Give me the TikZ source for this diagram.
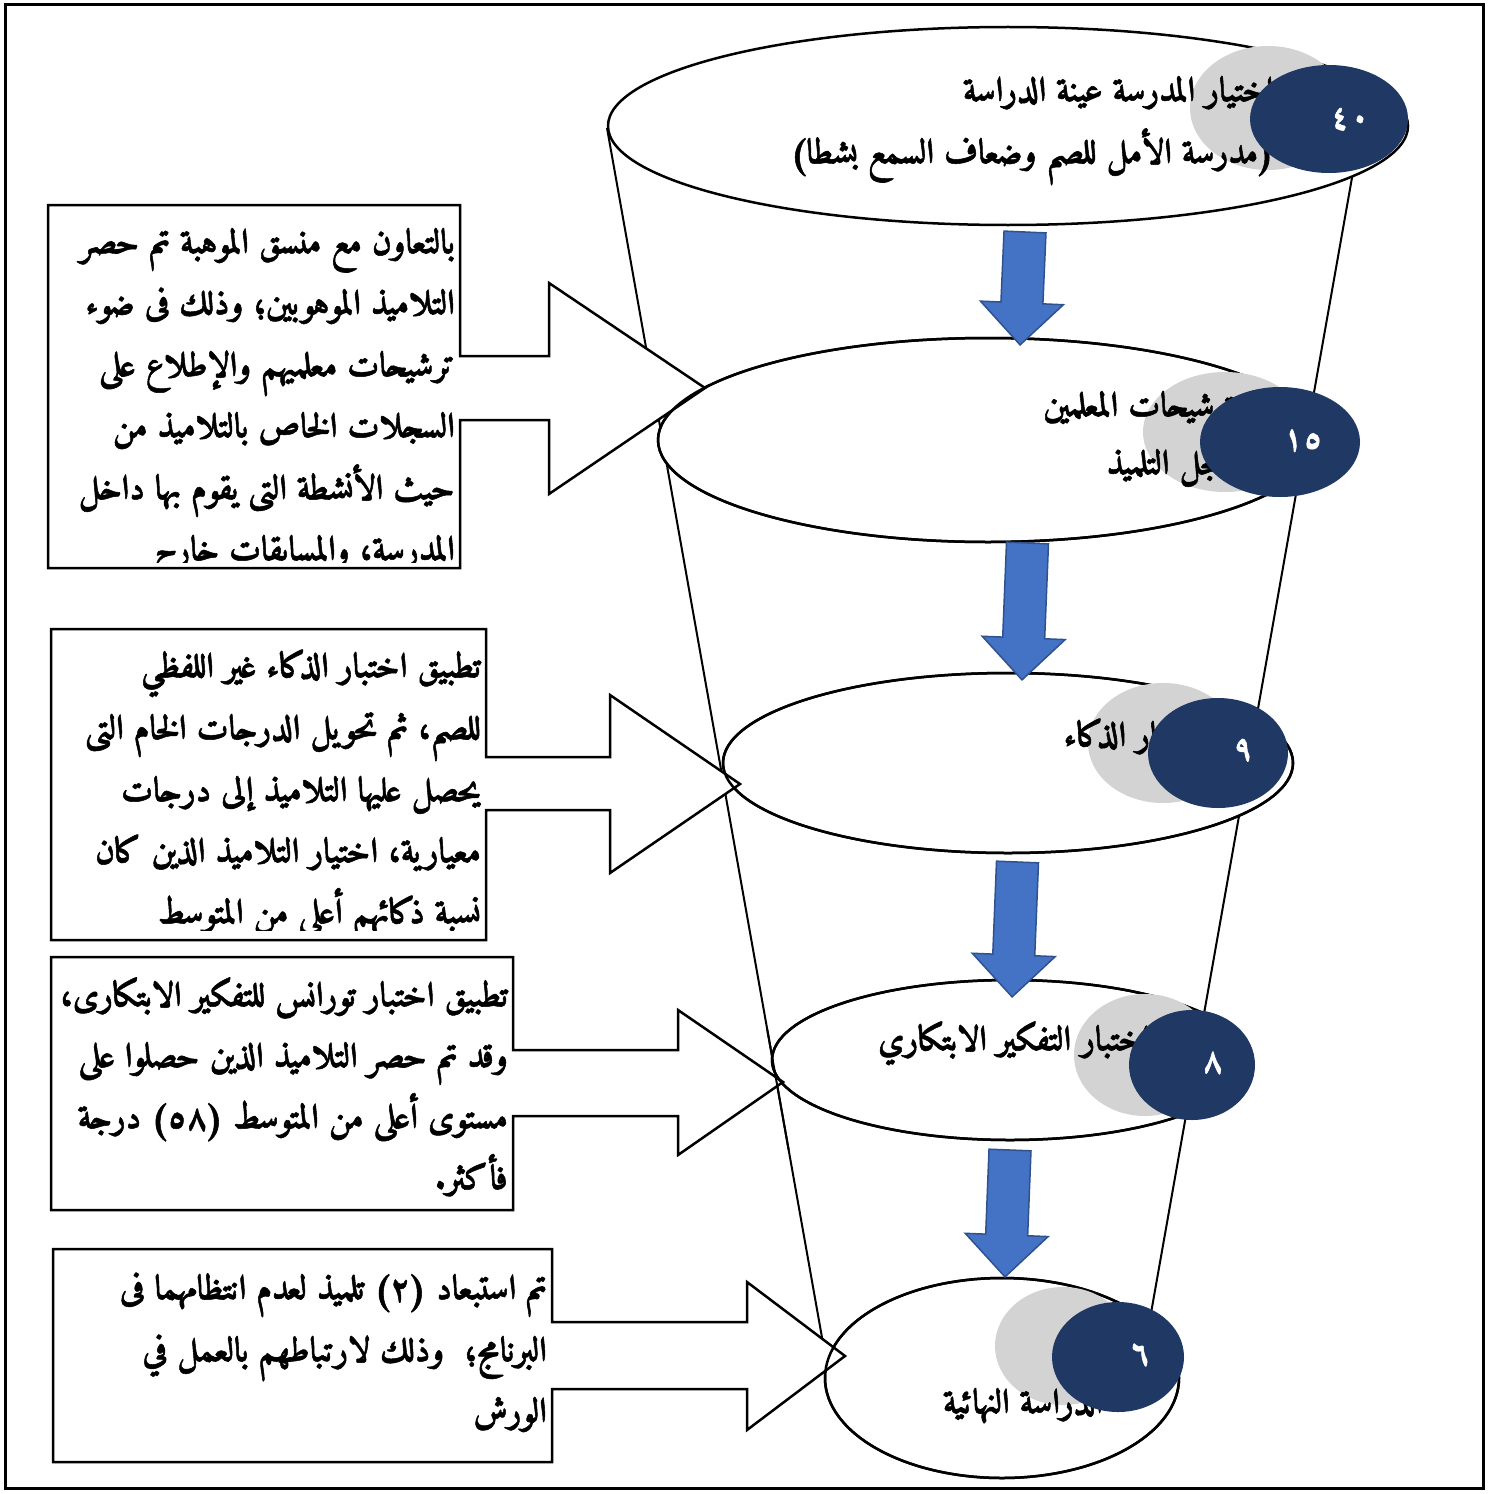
\documentclass[tikz,border=0pt]{standalone}
\usepackage{fontspec}
\usetikzlibrary{shapes.geometric,calc}
\TeXXeTstate=1
\IfFontExistsTF{Amiri-Bold.ttf}{%
  \newfontfamily\arfont[Script=Arabic,FakeBold=1.5]{Amiri-Bold.ttf}}{%
  \newfontfamily\arfont[Script=Arabic,FakeBold=2]{DejaVu Sans}}
\newcommand\ar[1]{{\arfont\beginR #1\endR}}
\newcommand\pc[1]{\hbox{\arfont #1}}
\definecolor{navy}{HTML}{203864}
\definecolor{lgray}{HTML}{D3D3D3}
\definecolor{barrow}{HTML}{4472C4}
\definecolor{barrowd}{HTML}{2F528F}
\tikzset{
  frame/.style={line width=3},
  cone/.style={line width=2},
  ellnode/.style={ellipse, draw, fill=white, line width=2.5, inner sep=0pt},
  ellline/.style={ellipse, draw, line width=2.5, inner sep=0pt},
  graydisc/.style={ellipse, fill=lgray, inner sep=0pt},
  navydisc/.style={ellipse, fill=navy, inner sep=0pt},
  numtxt/.style={text=white, inner sep=0pt, font=\fontsize{34}{38}\selectfont},
  boxshape/.style={draw, fill=white, line width=2.5, line join=miter},
  artext/.style={inner sep=0pt, anchor=base east, font=\fontsize{34.5}{40}\selectfont},
  bluearr/.style={fill=barrow, draw=barrowd, line width=1.5, line join=miter}
}
\newcommand\blarrow[4]{%
  \begin{scope}[shift={(#1,#2)},rotate=#4]
    \draw[bluearr] (-21,0) -- (21,0) -- (21,#3-42) -- (41.5,#3-42) -- (0,#3)
      -- (-41.5,#3-42) -- (-21,#3-42) -- cycle;
  \end{scope}}
\begin{document}
\begin{tikzpicture}[x=1pt,y=-1pt]
\useasboundingbox (0,0) rectangle (1501,1493);
\fill[white] (0,0) rectangle (1501,1493);
\draw[frame] (5,5) rectangle (1483,1488);

% cone sides
\coordinate (L1) at (607,128); \coordinate (L2) at (826,1360);
\coordinate (R1) at (1353,172); \coordinate (R2) at (1148,1330);
\draw[cone] (L1) -- (L2);
\draw[cone] (R1) -- (R2);

% levels
\node[ellnode, minimum width=800, minimum height=198] (e1) at (1008,126) {};
\node[ellnode, minimum width=660, minimum height=204] (e2) at (988,440) {};
\node[ellnode, minimum width=570, minimum height=180] (e3) at (1008,763) {};
\node[ellnode, minimum width=476, minimum height=160] (e4) at (1010,1060) {};
\node[ellnode, minimum width=354, minimum height=200] (e5) at (1002,1378) {};

% boxes with block arrows
\draw[boxshape] (48,205) -- (460,205) -- (460,356) -- (549,356) -- (549,283) -- (705,388)
  -- (549,494) -- (549,420) -- (460,420) -- (460,568) -- (48,568) -- cycle;
\draw[boxshape] (51,629) -- (486,629) -- (486,757) -- (610,757) -- (610,695) -- (740,784)
  -- (610,873) -- (610,810) -- (486,810) -- (486,940) -- (51,940) -- cycle;
\draw[boxshape] (51,957) -- (513,957) -- (513,1050) -- (678,1050) -- (678,1010) -- (783,1082)
  -- (678,1155) -- (678,1116) -- (513,1116) -- (513,1210) -- (51,1210) -- cycle;
\draw[boxshape] (53,1249) -- (552,1249) -- (552,1322) -- (747,1322) -- (747,1282) -- (845,1356)
  -- (747,1430) -- (747,1389) -- (552,1389) -- (552,1462) -- (53,1462) -- cycle;

% ellipse outlines over arrow tips
\node[ellline, minimum width=660, minimum height=204] (e2b) at (988,440) {};
\node[ellline, minimum width=570, minimum height=180] (e3b) at (1008,763) {};
\node[ellline, minimum width=476, minimum height=160] (e4b) at (1010,1060) {};
\node[ellline, minimum width=354, minimum height=200] (e5b) at (1002,1378) {};
\coordinate (L3) at ($(L1)!0.732!(L2)$); \coordinate (L4) at ($(L1)!0.8295!(L2)$);
\draw[cone] (L3) -- (L4);

% blue arrows
\blarrow{1025}{232}{113}{-2.5}
\blarrow{1027.5}{543}{137}{-2.3}
\blarrow{1017.5}{862}{135}{-2.3}
\blarrow{1010}{1150}{127}{-2.25}

% grey discs
\node[graydisc, minimum width=156, minimum height=124] (g1) at (1268,108) {};
\node[graydisc, minimum width=164, minimum height=120] (g2) at (1225,432) {};
\node[graydisc, minimum width=150, minimum height=120] (g3) at (1163,743) {};
\node[graydisc, minimum width=142, minimum height=122] (g4) at (1145,1055) {};
\node[graydisc, minimum width=136, minimum height=118] (g5) at (1063,1346) {};

% level texts
\node[artext] (a11) at (1274,101) {\ar{اختيار المدرسة عينة الدراسة}};
\node[artext] (a12) at (1274,163) {\ar{\pc{(}مدرسة الأمل للصم وضعاف السمع بشطا\pc{)}}};
\node[artext] (a21) at (1236,416) {\ar{ترشيحات المعلمين}};
\node[artext] (a22) at (1226,474) {\ar{سجل التلميذ}};
\node[artext] (a31) at (1205,746) {\ar{اختبار الذكاء}};
\node[artext] (a41) at (1150,1050) {\ar{اختبار التفكير الابتكاري}};
\node[artext] (a51) at (1103,1413) {\ar{الدراسة النهائية}};

% navy discs with numbers
\node[navydisc, minimum width=158, minimum height=108] (n1) at (1329,119) {};
\node[navydisc, minimum width=160, minimum height=110] (n2) at (1280,442) {};
\node[navydisc, minimum width=140, minimum height=110] (n3) at (1218,753) {};
\node[navydisc, minimum width=126, minimum height=110] (n4) at (1192,1065) {};
\node[navydisc, minimum width=132, minimum height=110] (n5) at (1118,1357) {};
\node[numtxt] (m1) at (1350,119) {\pc{٤٠}};
\node[numtxt] (m2) at (1303,440) {\pc{١٥}};
\node[numtxt] (m3) at (1243,750) {\pc{٩}};
\node[numtxt] (m4) at (1213,1063) {\pc{٨}};
\node[numtxt] (m5) at (1140,1355) {\pc{٦}};

% box texts
\begin{scope}
\clip (50,207) rectangle (458,562);
\node[artext] (b11) at (455,253) {\ar{بالتعاون مع منسق الموهبة تم حصر}};
\node[artext] (b12) at (455,314) {\ar{التلاميذ الموهوبين\pc{؛} وذلك فى ضوء}};
\node[artext] (b13) at (455,376) {\ar{ترشيحات معلميهم والإطلاع على}};
\node[artext] (b14) at (455,437) {\ar{السجلات الخاص بالتلاميذ من}};
\node[artext] (b15) at (455,499) {\ar{حيث الأنشطة التى يقوم بها داخل}};
\node[artext] (b16) at (455,560) {\ar{المدرسة\pc{،} والمسابقات خارج}};
\end{scope}
\begin{scope}
\clip (53,631) rectangle (484,930);
\node[artext] (b21) at (481,677) {\ar{تطبيق اختبار الذكاء غير اللفظي}};
\node[artext] (b22) at (481,739) {\ar{للصم\pc{،} ثم تحويل الدرجات الخام التى}};
\node[artext] (b23) at (481,801) {\ar{يحصل عليها التلاميذ إلى درجات}};
\node[artext] (b24) at (481,862) {\ar{معيارية\pc{،} اختيار التلاميذ الذين كان}};
\node[artext] (b25) at (481,923) {\ar{نسبة ذكائهم أعلى من المتوسط}};
\end{scope}
\node[artext] (b31) at (508,1006) {\ar{تطبيق اختبار تورانس للتفكير الابتكارى\pc{،}}};
\node[artext] (b32) at (508,1067) {\ar{وقد تم حصر التلاميذ الذين حصلوا على}};
\node[artext] (b33) at (508,1128) {\ar{مستوى أعلى من المتوسط \pc{(٥٨)} درجة}};
\node[artext] (b34) at (508,1189) {\ar{فأكثر\pc{.}}};
\node[artext] (b41) at (547,1299) {\ar{تم استبعاد \pc{(٢)} تلميذ لعدم انتظامهما فى}};
\node[artext] (b42) at (547,1361) {\ar{البرنامج\pc{؛}\ \ وذلك لارتباطهم بالعمل في}};
\node[artext] (b43) at (547,1422) {\ar{الورش}};
\end{tikzpicture}
\end{document}
